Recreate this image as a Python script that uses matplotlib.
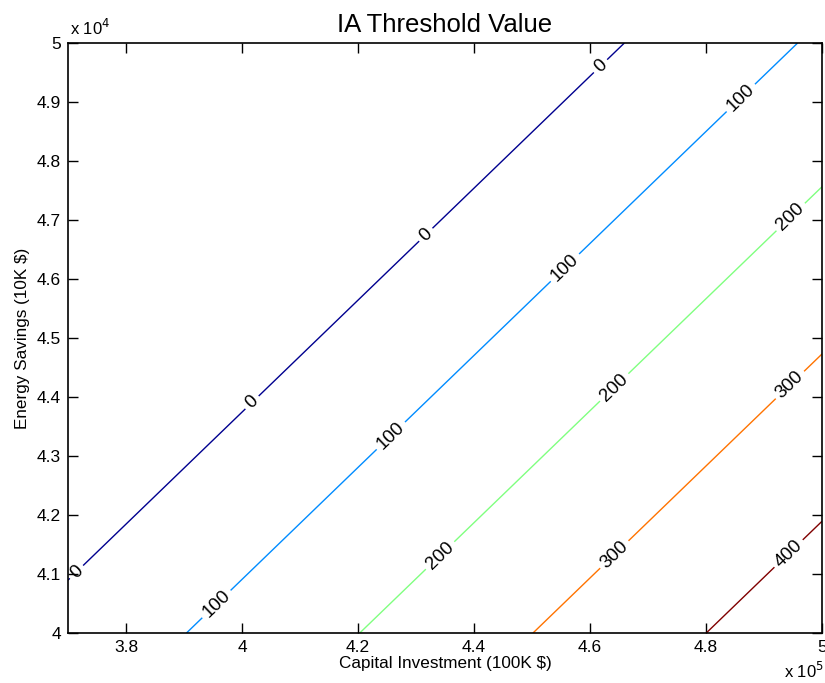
import numpy as np
import matplotlib
matplotlib.use('Agg')
import matplotlib.pyplot as plt
from matplotlib.ticker import FuncFormatter

# contour levels and where each one crosses the bottom / top edge (x in 100K $)
levels = [0, 100, 200, 300, 400]
x_at_y4 = [3.605, 3.903, 4.207, 4.500, 4.800]   # at y = 4.0e4
x_at_y5 = [4.659, 4.957, 5.257, 5.558, 5.852]   # at y = 5.0e4

# label spots (x in 1e5, y in 1e4)
label_x = [3.72, 4.022, 4.321, 4.621, 3.954, 4.255, 4.557, 4.859, 4.341, 4.643, 4.948, 4.643, 4.945, 4.945]
label_y = [4.098, 4.386, 4.671, 4.958, 4.051, 4.336, 4.619, 4.908, 4.132, 4.415, 4.703, 4.132, 4.420, 4.132]

line_colors = [(0.0, 0.0, 0.56), (0.0, 0.55, 1.0), (0.5, 1.0, 0.5), (1.0, 0.45, 0.0), (0.5, 0.0, 0.0)]

plt.rcParams['font.family'] = ['Liberation Sans', 'DejaVu Sans']

# fit a plane value = a*x + b*y + c through the edge crossings
xs = np.array(x_at_y4 + x_at_y5) * 1e5
ys = np.array([4.0e4] * len(levels) + [5.0e4] * len(levels))
vals = np.array(levels + levels, dtype=float)
A = np.column_stack([xs, ys, np.ones_like(xs)])
coef, *_ = np.linalg.lstsq(A, vals, rcond=None)

gx = np.linspace(3.7e5, 5.0e5, 300)
gy = np.linspace(4.0e4, 5.0e4, 300)
X, Y = np.meshgrid(gx, gy)
Z = coef[0] * X + coef[1] * Y + coef[2]

fig = plt.figure(figsize=(8.25, 6.83), dpi=100)
ax = fig.add_axes([0.0824, 0.0732, 0.9140, 0.8638])

cs = ax.contour(X, Y, Z, levels=levels, colors=line_colors, linewidths=1.0)
pos = [(px * 1e5, py * 1e4) for px, py in zip(label_x, label_y)]
ax.clabel(cs, levels=levels, manual=pos, fmt='%d', fontsize=13.5, colors='k', inline=True, inline_spacing=4)

ax.set_xlim(3.7e5, 5.0e5)
ax.set_ylim(4.0e4, 5.0e4)
ax.set_xticks(np.arange(3.8e5, 5.01e5, 0.2e5))
ax.set_yticks(np.arange(4.0e4, 5.01e4, 0.1e4))
ax.xaxis.set_major_formatter(FuncFormatter(lambda v, p: f'{v/1e5:g}'))
ax.yaxis.set_major_formatter(FuncFormatter(lambda v, p: f'{v/1e4:g}'))
ax.tick_params(direction='in', top=True, right=True, labelsize=12.5, length=7, width=1, pad=5)
for s in ax.spines.values():
    s.set_linewidth(1.2)

ax.set_title('IA Threshold Value', fontsize=18.5, pad=8)
ax.set_xlabel('Capital Investment (100K $)', fontsize=12.3, labelpad=1)
ax.set_ylabel('Energy Savings (10K $)', fontsize=12.3, labelpad=5)

fig.text(0.085, 0.945, r'x 10$^4$', fontsize=12, ha='left', va='bottom')
fig.text(0.95, 0.003, r'x 10$^5$', fontsize=12, ha='left', va='bottom')

fig.savefig('out.png', dpi=100)
